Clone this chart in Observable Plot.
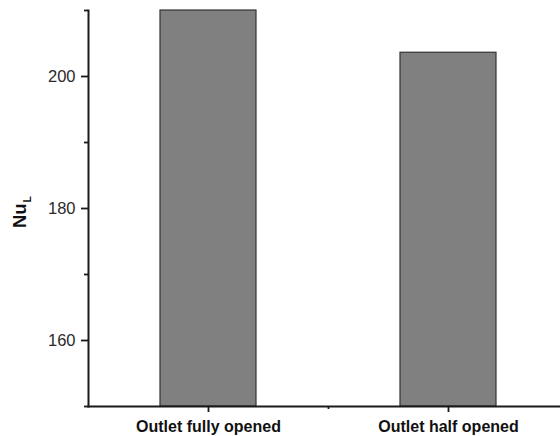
<!DOCTYPE html>
<html>
<head>
<meta charset="utf-8">
<script src="https://cdn.jsdelivr.net/npm/d3@7"></script>
<script src="https://cdn.jsdelivr.net/npm/@observablehq/plot@0.6"></script>
<style>
  html, body { margin: 0; padding: 0; background: #fff; overflow: hidden; }
  #chart { width: 560px; height: 436px; }
  #chart svg { overflow: visible; }
</style>
</head>
<body>
<div id="chart"></div>
<script>
// Average Nusselt number for the two outlet configurations
const categories = ["Outlet fully opened", "Outlet half opened"];
const nusselt = [210.0, 203.6];

// Axis ticks
const yDomain = [150, 210];
const yMajorTicks = [160, 180, 200];
const yMinorTicks = [150, 170, 190, 210];
const xMajorTicks = [1, 2];
const xMinorTicks = [1.5];

// Bars sit at integer positions 1, 2, ... on a linear x axis
const barHalfWidth = 0.2;
const rows = categories.map((name, i) => ({ name, pos: i + 1, value: nusselt[i] }));

const font = "'Liberation Sans', Arial, Helvetica, sans-serif";
const ink = "#1a1a1a";

const chart = Plot.plot({
  width: 560,
  height: 436,
  marginTop: 10,
  marginBottom: 30,
  marginLeft: 88,
  marginRight: 0,
  style: { fontFamily: font, fontSize: "16px", color: ink, background: "#fff", overflow: "visible" },
  x: { type: "linear", domain: [0.5, 2.5], range: [88, 568] },
  y: { domain: yDomain },
  marks: [
    Plot.rectY(rows, {
      x1: d => d.pos - barHalfWidth,
      x2: d => d.pos + barHalfWidth,
      y1: yDomain[0],
      y2: "value",
      fill: "#808080",
      stroke: "#333",
      strokeWidth: 1.2
    }),
    // axis lines
    Plot.frame({ anchor: "left", stroke: ink, strokeWidth: 2 }),
    Plot.frame({ anchor: "bottom", stroke: ink, strokeWidth: 2 }),
    // y axis: labelled major ticks plus short minor ticks
    Plot.axisY(yMajorTicks, {
      anchor: "left", tickSize: 7, tickPadding: 6, stroke: ink, strokeWidth: 1.8,
      fontSize: 16.5, fill: "#2a2a2a", label: null
    }),
    Plot.axisY(yMinorTicks, {
      anchor: "left", tickSize: 4, stroke: ink, strokeWidth: 1.8, tickFormat: () => "", label: null
    }),
    // x axis: category names under the bars
    Plot.axisX(xMajorTicks, {
      anchor: "bottom", tickSize: 6, tickPadding: 8.5, stroke: ink, strokeWidth: 1.8,
      tickFormat: p => categories[p - 1], fontSize: 16, fontWeight: "bold",
      fill: "#111", label: null
    }),
    Plot.axisX(xMinorTicks, {
      anchor: "bottom", tickSize: 3, stroke: ink, strokeWidth: 1.8, tickFormat: () => "", label: null
    })
  ]
});

// Rotated y-axis title "Nu" with subscript L
const title = d3.select(chart).append("text")
  .attr("transform", "translate(26,212) rotate(-90)")
  .attr("text-anchor", "middle")
  .attr("font-family", font)
  .attr("font-weight", "bold")
  .attr("font-size", 18.5)
  .attr("fill", "#111");
title.append("tspan").text("Nu");
title.append("tspan").attr("font-size", 10.5).attr("dy", 4.5).attr("dx", 1).text("L");

document.getElementById("chart").append(chart);
</script>
</body>
</html>
